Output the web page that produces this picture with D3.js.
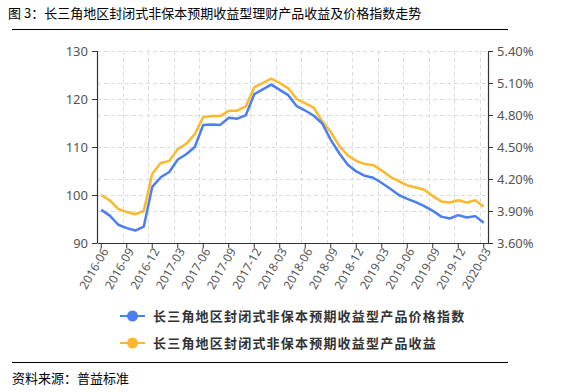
<!DOCTYPE html>
<html>
<head>
<meta charset="utf-8">
<script src="https://cdn.jsdelivr.net/npm/d3@7"></script>
<style>
  body { margin: 0; background: #fff; }
  svg { display: block; font-family: "Noto Sans CJK SC", "Noto Sans", sans-serif; }
</style>
</head>
<body>
<svg width="583" height="392"></svg>
<script>
const months = [
  '2016-06', '2016-07', '2016-08', '2016-09', '2016-10', '2016-11', '2016-12',
  '2017-01', '2017-02', '2017-03', '2017-04', '2017-05', '2017-06', '2017-07',
  '2017-08', '2017-09', '2017-10', '2017-11', '2017-12', '2018-01', '2018-02',
  '2018-03', '2018-04', '2018-05', '2018-06', '2018-07', '2018-08', '2018-09',
  '2018-10', '2018-11', '2018-12', '2019-01', '2019-02', '2019-03', '2019-04',
  '2019-05', '2019-06', '2019-07', '2019-08', '2019-09', '2019-10', '2019-11',
  '2019-12', '2020-01', '2020-02', '2020-03'
];

// 价格指数 (left axis)
const priceIndex = [
  96.9, 95.7, 93.8, 93.1, 92.6, 93.4, 101.7, 103.7, 104.8, 107.4,
  108.5, 110.0, 114.6, 114.7, 114.6, 116.1, 115.9, 116.6, 121.0, 122.0,
  123.0, 121.9, 120.8, 118.5, 117.6, 116.5, 114.9, 111.5, 108.7, 106.3,
  104.9, 104.0, 103.6, 102.5, 101.3, 100.0, 99.2, 98.5, 97.7, 96.7,
  95.5, 95.1, 95.8, 95.3, 95.6, 94.2
];

// 产品收益 % (right axis)
const productYield = [
  4.05, 4.00, 3.92, 3.89, 3.87, 3.90, 4.25, 4.35, 4.37, 4.48,
  4.53, 4.62, 4.78, 4.79, 4.79, 4.84, 4.84, 4.88, 5.06, 5.10,
  5.14, 5.10, 5.05, 4.95, 4.91, 4.87, 4.74, 4.64, 4.51, 4.42,
  4.37, 4.34, 4.33, 4.28, 4.22, 4.18, 4.14, 4.12, 4.10, 4.04,
  3.99, 3.98, 4.00, 3.98, 4.00, 3.94
];

const leftTicks = [90, 100, 110, 120, 130];
const rightTicks = [3.6, 3.9, 4.2, 4.5, 4.8, 5.1, 5.4];
const labelMonths = months.filter((m, i) => i % 3 === 0);

const seriesNames = ['长三角地区封闭式非保本预期收益型产品价格指数', '长三角地区封闭式非保本预期收益型产品收益'];
const colors = ['#4a7ef2', '#fcb82a'];

const plotLeft = 97, plotRight = 488, plotTop = 51, plotBottom = 243;

const svg = d3.select('svg');

// title + rules
svg.append('text')
  .attr('x', 8)
  .attr('y', 18)
  .attr('font-size', '13px')
  .attr('fill', '#000')
  .text('图 3：长三角地区封闭式非保本预期收益型理财产品收益及价格指数走势');

svg.append('line')
  .attr('x1', 12).attr('x2', 508)
  .attr('y1', 29.5).attr('y2', 29.5)
  .attr('stroke', '#000');

svg.append('line')
  .attr('x1', 12).attr('x2', 508)
  .attr('y1', 362.5).attr('y2', 362.5)
  .attr('stroke', '#000');

svg.append('text')
  .attr('x', 12)
  .attr('y', 383)
  .attr('font-size', '13px')
  .attr('fill', '#000')
  .text('资料来源：普益标准');

// scales
const xScale = d3.scaleBand()
  .domain(months)
  .range([plotLeft, plotRight])
  .padding(0);

const yLeft = d3.scaleLinear()
  .domain([90, 130])
  .range([plotBottom, plotTop]);

const yRight = d3.scaleLinear()
  .domain([3.6, 5.4])
  .range([plotBottom, plotTop]);

const cx = (m) => xScale(m) + xScale.bandwidth() / 2;

// grid
const grid = svg.append('g')
  .attr('stroke', '#dcdcdc')
  .attr('stroke-dasharray', '4,3');

grid.selectAll('.hl')
  .data(leftTicks)
  .enter()
  .append('line')
  .attr('x1', plotLeft).attr('x2', plotRight)
  .attr('y1', (d) => Math.round(yLeft(d)) + 0.5)
  .attr('y2', (d) => Math.round(yLeft(d)) + 0.5);

grid.selectAll('.hr')
  .data(rightTicks)
  .enter()
  .append('line')
  .attr('x1', plotLeft).attr('x2', plotRight)
  .attr('y1', (d) => Math.round(yRight(d)) + 0.5)
  .attr('y2', (d) => Math.round(yRight(d)) + 0.5);

grid.selectAll('.v')
  .data(labelMonths.slice(1))
  .enter()
  .append('line')
  .attr('x1', (d) => Math.round(xScale(d)) + 0.5)
  .attr('x2', (d) => Math.round(xScale(d)) + 0.5)
  .attr('y1', plotTop).attr('y2', plotBottom);

// axes
const axisColor = '#333';
const labelColor = '#555';

const leftAxis = svg.append('g')
  .attr('transform', `translate(${plotLeft}, 0)`)
  .call(d3.axisLeft(yLeft).tickValues(leftTicks).tickSize(5).tickPadding(4));

const rightAxis = svg.append('g')
  .attr('transform', `translate(${plotRight}, 0)`)
  .call(d3.axisRight(yRight).tickValues(rightTicks).tickSize(5).tickPadding(4)
    .tickFormat((d) => d.toFixed(2) + '%'));

const bottomAxis = svg.append('g')
  .attr('transform', `translate(0, ${plotBottom})`)
  .call(d3.axisBottom(xScale).tickValues(labelMonths).tickSize(5).tickSizeOuter(0));

[leftAxis, rightAxis, bottomAxis].forEach((a) => {
  a.select('.domain').attr('stroke', axisColor).attr('stroke-width', 1.2);
  a.selectAll('.tick line').attr('stroke', axisColor);
  a.selectAll('.tick text')
    .attr('fill', labelColor)
    .attr('font-family', '"Noto Sans", "Open Sans", sans-serif');
});
leftAxis.selectAll('.tick text').attr('font-size', '13px');
rightAxis.selectAll('.tick text').attr('font-size', '13px');
leftAxis.select('.domain').attr('d', `M0.5,${plotTop}V${plotBottom}`);
rightAxis.select('.domain').attr('d', `M0.5,${plotTop}V${plotBottom}`);

bottomAxis.selectAll('.tick text')
  .attr('font-size', '12px')
  .attr('text-anchor', 'end')
  .attr('dy', '0.35em')
  .attr('transform', 'translate(4, 6) rotate(-60)')
  .attr('x', 0)
  .attr('y', 0);

// lines
const blueLine = d3.line()
  .x((d, i) => cx(months[i]))
  .y((d) => yLeft(d));

const orangeLine = d3.line()
  .x((d, i) => cx(months[i]))
  .y((d) => yRight(d));

svg.append('path')
  .datum(productYield)
  .attr('fill', 'none')
  .attr('stroke', colors[1])
  .attr('stroke-width', 2.5)
  .attr('stroke-linejoin', 'round')
  .attr('d', orangeLine);

svg.append('path')
  .datum(priceIndex)
  .attr('fill', 'none')
  .attr('stroke', colors[0])
  .attr('stroke-width', 2.5)
  .attr('stroke-linejoin', 'round')
  .attr('d', blueLine);

// legend
const legend = svg.selectAll('.legend')
  .data(seriesNames)
  .enter()
  .append('g')
  .attr('transform', (d, i) => `translate(120, ${316 + i * 27})`);

legend.append('line')
  .attr('x1', 0).attr('x2', 25)
  .attr('stroke', (d, i) => colors[i])
  .attr('stroke-width', 2);

legend.append('circle')
  .attr('cx', 12.5)
  .attr('r', 5.5)
  .attr('fill', (d, i) => colors[i]);

legend.append('text')
  .attr('x', 33)
  .attr('dy', '0.35em')
  .attr('font-size', '13px')
  .attr('font-weight', 'bold')
  .attr('letter-spacing', '1.2px')
  .attr('fill', '#333')
  .text((d) => d);
</script>
</body>
</html>
